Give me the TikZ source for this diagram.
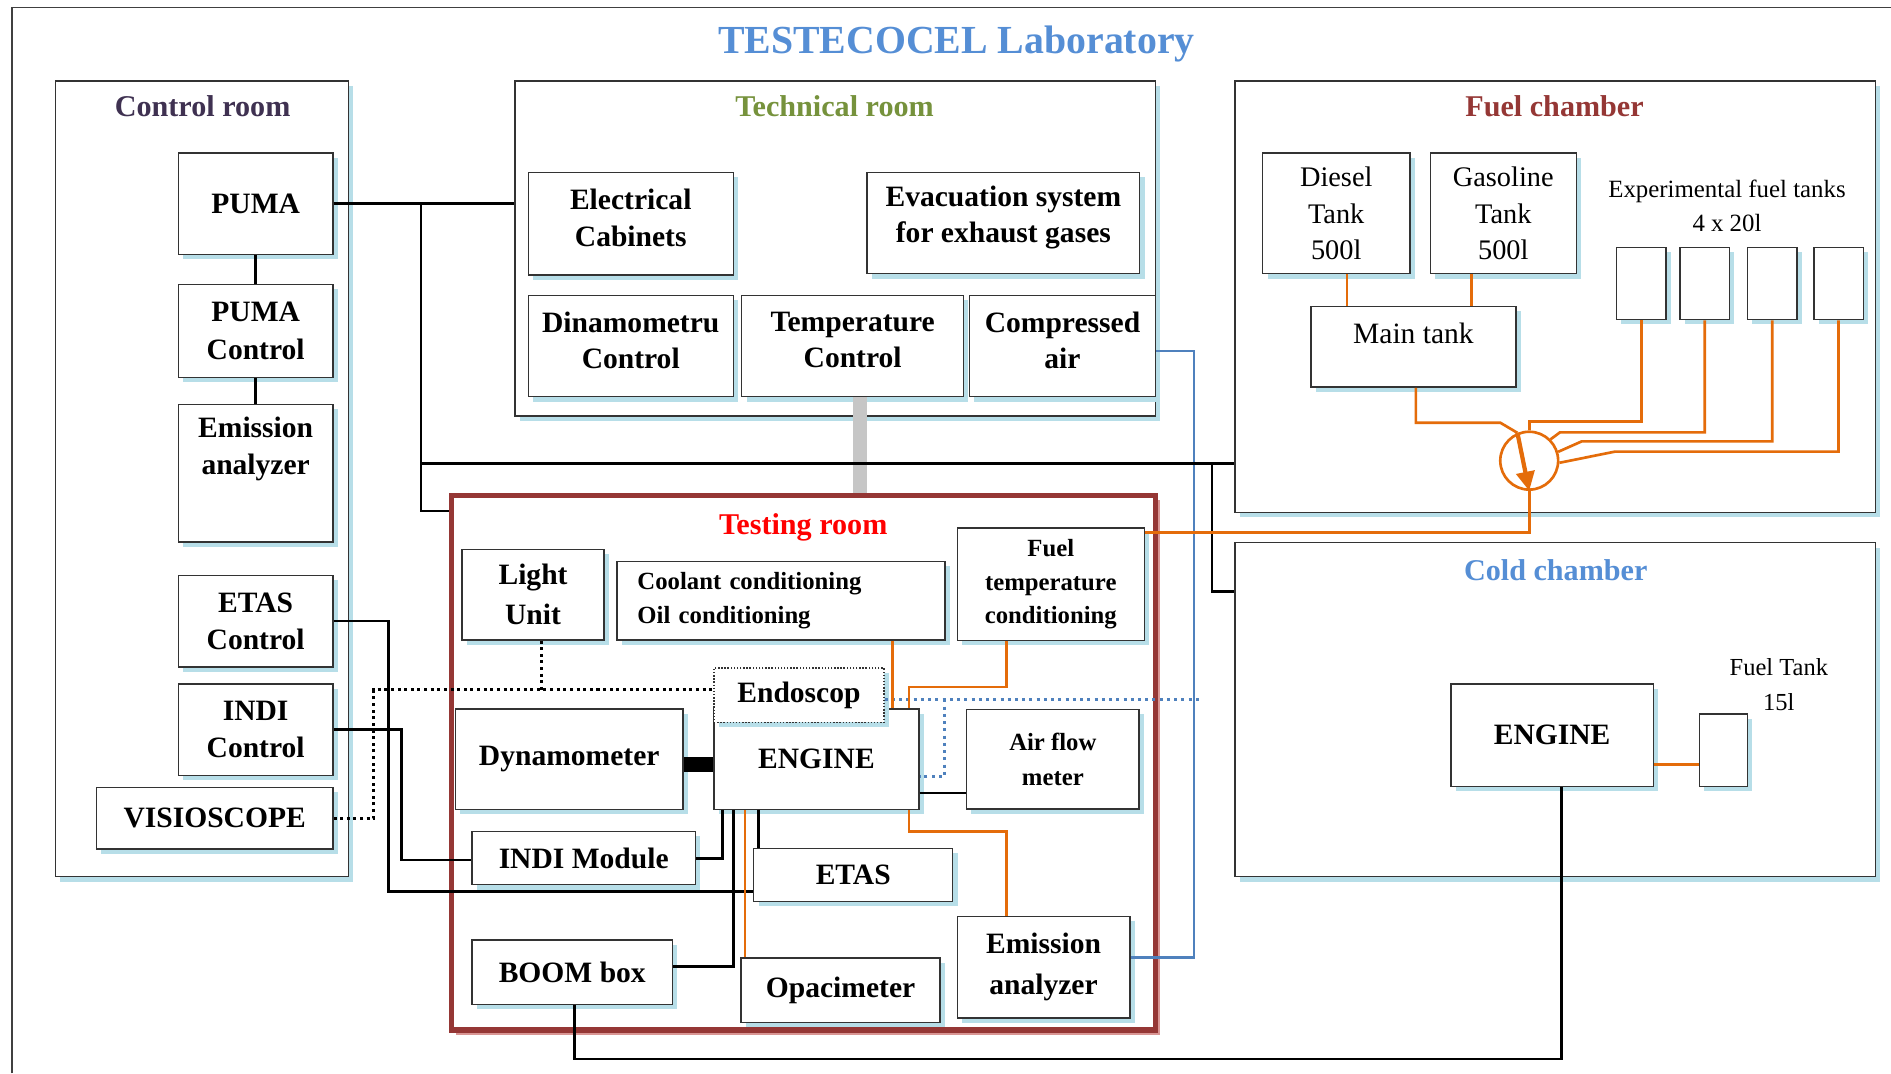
\documentclass[tikz,border=0pt]{standalone}
\usepackage{fontspec}
\setmainfont{Liberation Serif}
\usetikzlibrary{shadows,arrows.meta}
\definecolor{shblue}{RGB}{183,222,232}
\definecolor{pipeor}{RGB}{228,108,10}
\definecolor{airbl}{RGB}{79,129,189}
\definecolor{titlebl}{RGB}{85,142,213}
\definecolor{testred}{RGB}{149,55,53}
\definecolor{testsh}{RGB}{217,150,148}
\definecolor{ctrlcol}{RGB}{63,49,81}
\definecolor{techcol}{RGB}{118,146,60}

\begin{document}
\begin{tikzpicture}[x=1pt,y=-1pt]
      \tikzstyle{room}=[draw=black!80,line width=1.2pt,fill=white,inner sep=0pt,drop shadow={shadow xshift=4pt,shadow yshift=-4pt,fill=shblue,opacity=1}]
      \tikzstyle{dev}=[room,align=center,font=\fontsize{24.5}{31}\selectfont\bfseries]
      \tikzstyle{devs}=[dev,font=\fontsize{20.5}{28}\selectfont\bfseries]
      \tikzstyle{tank}=[dev,font=\fontsize{23.5}{30.5}\selectfont]
      \tikzstyle{note}=[align=center,inner sep=0pt]
      \tikzstyle{rlbl}=[anchor=base,inner sep=0pt,font=\fontsize{25}{30}\selectfont\bfseries]
      \tikzstyle{wire}=[line width=2.2pt,black]
      \tikzstyle{pipe}=[line width=2.2pt,pipeor]
      \tikzstyle{airline}=[line width=2pt,airbl]
      \tikzstyle{dotline}=[line width=2.5pt,dash pattern=on 2.5pt off 3pt]
      \useasboundingbox (0,0) rectangle (1568,890);
      \draw[line width=1.2pt,black!75] (10,890) -- (10,6) -- (1568,6);
      \node[anchor=base,inner sep=0pt,text=titlebl,font=\fontsize{33}{40}\selectfont\bfseries] (title) at (793,44) {TESTECOCEL Laboratory};

      \node[room,minimum width=243pt,minimum height=660pt] (ctrl) at (167.5,397) {};
      \node[room,minimum width=531pt,minimum height=278pt] (tech) at (692.5,206) {};
      \node[room,minimum width=531pt,minimum height=358pt] (fuel) at (1289.5,246) {};
      \node[room,minimum width=531pt,minimum height=277pt] (cold) at (1289.5,588.5) {};
      \node[draw=testred,line width=4.5pt,fill=white,inner sep=0pt,minimum width=583.5pt,minimum height=443pt,drop shadow={shadow xshift=4pt,shadow yshift=-4pt,fill=testsh,opacity=1}] (test) at (666.25,632.5) {};

      \node[rlbl,text=ctrlcol] (ctrlt) at (168,97) {Control room};
      \node[rlbl,text=techcol] (techt) at (692,97) {Technical room};
      \node[rlbl,text=testred] (fuelt) at (1289,97) {Fuel chamber};
      \node[rlbl,text=red] (testt) at (666,443.5) {Testing room};
      \node[rlbl,text=titlebl] (coldt) at (1290,481) {Cold chamber};

      \node[dev,minimum width=128pt,minimum height=84pt] (puma) at (212,169) {PUMA};
      \node[dev,minimum width=128pt,minimum height=77pt] (pumac) at (212,274.5) {PUMA\\Control};
      \node[dev,minimum width=128pt,minimum height=114pt,text depth=46pt] (emc) at (212,392.5) {Emission\\analyzer};
      \node[dev,minimum width=128pt,minimum height=76pt] (etasc) at (212,515) {ETAS\\Control};
      \node[dev,minimum width=128pt,minimum height=76pt] (indic) at (212,605) {INDI\\Control};
      \node[dev,minimum width=196pt,minimum height=51pt] (visio) at (178,678.5) {VISIOSCOPE};

      \node[dev,minimum width=170pt,minimum height=85pt,text depth=10pt] (elec) at (523,185.5) {Electrical\\[-1pt]Cabinets};
      \node[dev,minimum width=226pt,minimum height=84pt,text depth=15pt] (evac) at (832,185) {Evacuation system\\[-1pt]for exhaust gases};
      \node[dev,minimum width=170pt,minimum height=84pt,text depth=10pt] (dina) at (523,287) {Dinamometru\\[-1pt]Control};
      \node[dev,minimum width=184pt,minimum height=84pt,text depth=10pt] (tempc) at (707,287) {Temperature\\[-1pt]Control};
      \node[dev,minimum width=154pt,minimum height=84pt,text depth=10pt] (comp) at (881,287) {Compressed\\[-1pt]air};

      \node[tank,minimum width=122pt,minimum height=100pt] (diesel) at (1108,177) {Diesel\\Tank\\500l};
      \node[tank,minimum width=121pt,minimum height=100pt] (gasoline) at (1246.5,177) {Gasoline\\Tank\\500l};
      \node[tank,font=\fontsize{24.5}{30}\selectfont,minimum width=170pt,minimum height=67pt,text depth=23pt] (maint) at (1172,287.5) {Main tank};
      \node[note,font=\fontsize{20.6}{28}\selectfont] (expt) at (1432,171) {Experimental fuel tanks\\4 x 20l};
      \foreach \i/\x in {1/1361,2/1413.5,3/1469.5,4/1524.5}
        \node[room,minimum width=41pt,minimum height=60pt] (t\i) at (\x,235) {};
      \node[circle,draw=pipeor,line width=2.2pt,fill=white,minimum size=48pt,inner sep=0pt] (pump) at (1268,382) {};

      \node[dev,minimum width=168pt,minimum height=85pt] (enginec) at (1287,609.5) {ENGINE};
      \node[room,minimum width=40pt,minimum height=60pt] (ftank) at (1429,622) {};
      \node[note,font=\fontsize{20.3}{29}\selectfont] (ftankt) at (1475,567.5) {Fuel Tank\\15l};

      \node[dev,minimum width=118pt,minimum height=75pt] (light) at (442,493) {Light\\[2pt]Unit};
      \node[devs,minimum width=272pt,minimum height=65pt,text width=238pt,align=left] (cool) at (647.6,498) {Coolant conditioning\\Oil conditioning};
      \node[devs,minimum width=155pt,minimum height=93pt] (fueltc) at (871.3,484.4) {Fuel\\temperature\\conditioning};
      \node[dev,minimum width=170pt,minimum height=83pt] (engine) at (677,629.5) {ENGINE};
      \node[dev,dash pattern=on 1.2pt off 1.4pt,minimum width=141pt,minimum height=45pt] (endo) at (662.5,576.5) {Endoscop};
      \node[dev,minimum width=189pt,minimum height=83pt] (dyno) at (472,629.5) {Dynamometer};
      \node[devs,minimum width=143pt,minimum height=82.5pt] (airflow) at (873,629.5) {Air flow\\[1pt]meter};
      \node[dev,minimum width=185pt,minimum height=44pt] (indim) at (484,711.6) {INDI Module};
      \node[dev,minimum width=165pt,minimum height=44pt] (etas) at (707.5,725.5) {ETAS};
      \node[dev,minimum width=166pt,minimum height=53.5pt] (boom) at (474.5,806) {BOOM box};
      \node[dev,minimum width=165pt,minimum height=53.5pt] (opac) at (697,821) {Opacimeter};
      \node[dev,minimum width=143pt,minimum height=84pt] (emt) at (865.3,802) {Emission\\[3pt]analyzer};

      \coordinate (bus) at (349,384.5);
      \coordinate (tap) at (1005,384.5);
      \coordinate (etasbus) at (322,739);
      \coordinate (indibus) at (333,713);
      \coordinate (ret) at (1295,878);
      \coordinate (xi) at (599,0);
      \coordinate (xb) at (608,0);
      \coordinate (xe) at (629,0);
      \coordinate (xt) at (713,0);
      \coordinate (xl) at (449,0);
      \coordinate (xd) at (1117,0);
      \coordinate (xg) at (1220,0);
      \coordinate (xm) at (1174,0);
      \coordinate (xc) at (740,0);
      \coordinate (xo) at (617.7,0);
      \coordinate (mk) at (1244,350.5);
      \coordinate (k2) at (1293.5,358.5);
      \coordinate (k3) at (1311.5,366);
      \coordinate (k4) at (1339,374.5);
      \coordinate (fk) at (753.8,569.7);
      \coordinate (ek) at (834.6,689.5);
      \coordinate (ab) at (990,794);
      \coordinate (dk) at (783,580);
      \coordinate (dend) at (994,580);
      \coordinate (vk) at (310,572);

      \draw[line width=12pt,gray!45] (xt |- tempc.south) -- (xt |- test.north);
      \draw[airline] ([yshift=-4pt]comp.east) -| (ab) -- (ab -| emt.east);
      \draw[airline,dash pattern=on 2.5pt off 3.5pt] ([yshift=-3.5pt]endo.east) -- (dend);
      \draw[airline,dash pattern=on 2.5pt off 3.5pt] (dk) |- ([yshift=-14.5pt]engine.east);

      \draw[wire] (puma.south) -- (pumac.north);
      \draw[wire] (pumac.south) -- (emc.north);
      \draw[wire] (puma.east) -- (puma.east -| tech.west);
      \draw[wire] (bus |- puma.east) |- ([yshift=-15pt]test.north west);
      \draw[wire] (bus) -- (bus -| fuel.west);
      \draw[wire] (tap) |- ([yshift=-41pt]cold.north west);
      \draw[wire] (etasc.east) -| (etasbus) -- (etasbus -| etas.west);
      \draw[wire] (indic.east) -| (indibus) -- (indibus -| indim.west);
      \draw[wire] (xi |- engine.south) |- (indim.east);
      \draw[wire] (xb |- engine.south) |- ([yshift=4.5pt]boom.east);
      \draw[wire] (xe |- engine.south) -- (xe |- etas.north);
      \draw[wire] ([yshift=-28pt]engine.east) -- ([yshift=-28pt]engine.east -| airflow.west);
      \draw[line width=12pt] ([yshift=-4.5pt]dyno.east) -- ([yshift=-4.5pt]engine.west);
      \draw[wire] ([xshift=1.7pt]boom.south) |- (ret) -- (ret |- enginec.south);

      \draw[dotline] (visio.east) -| (vk) -- (vk -| endo.west);
      \draw[dotline] (xl |- light.south) -- (xl |- vk);

      \draw[pipe] (xd |- diesel.south) -- (xd |- maint.north);
      \draw[pipe] (xg |- gasoline.south) -- (xg |- maint.north);
      \draw[pipe] (xm |- maint.south) |- (mk) -- (pump.113);
      \draw[pipe] (t1.south) |- ([yshift=7.5pt]pump.north) -- (pump.north);
      \draw[pipe] (t2.south) |- (k2) -- (pump.45);
      \draw[pipe] (t3.south) |- (k3) -- (pump.17);
      \draw[pipe] (t4.south) |- (k4) -- (pump.-4);
      \draw[pipe,line width=3.5pt,-{Triangle[length=16pt,width=15pt]}] (pump.113) -- (pump.south);
      \draw[pipe] (pump.south) |- ([yshift=-4pt]fueltc.north east);
      \draw[pipe] ([yshift=-24.5pt]enginec.east) -- ([yshift=-24.5pt]enginec.east -| ftank.west);
      \draw[pipe] (xc |- cool.south) -- (xc |- engine.north);
      \draw[pipe] (ek |- fueltc.south) |- (fk) -- (fk |- engine.north);
      \draw[pipe] (fk |- engine.south) |- (ek) -- (ek |- emt.north);
      \draw[pipe] (xo |- engine.south) -- (xo |- opac.north);
\end{tikzpicture}
\end{document}
